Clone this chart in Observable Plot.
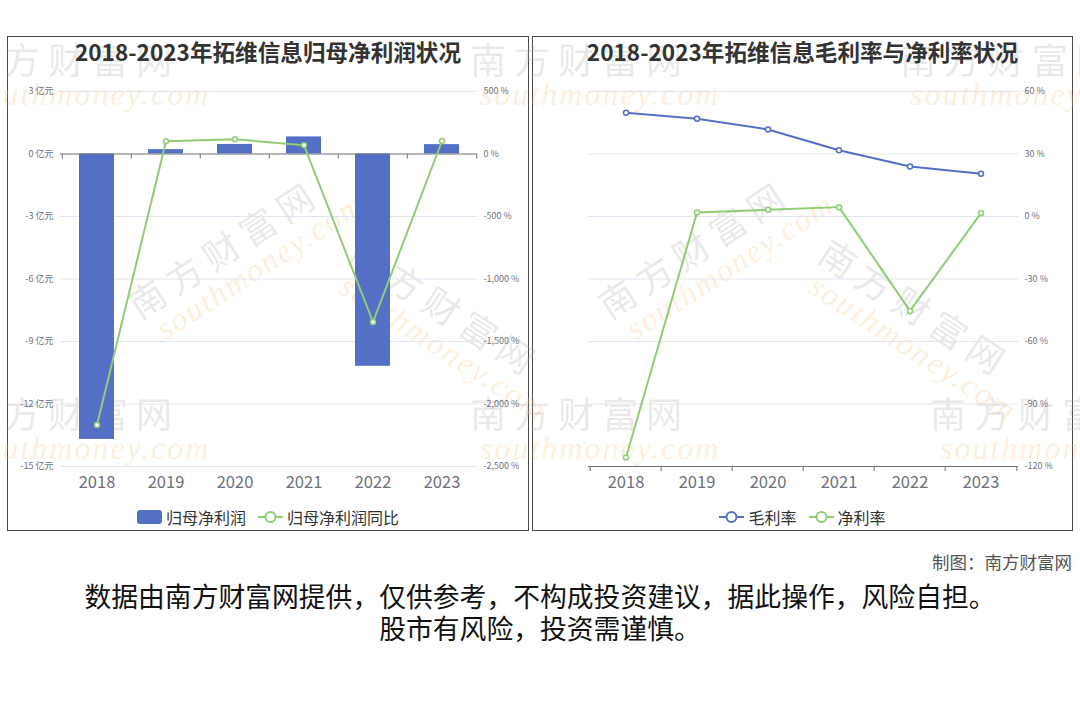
<!DOCTYPE html>
<html>
<head>
<meta charset="utf-8">
<script src="https://cdn.jsdelivr.net/npm/d3@7"></script>
<script src="https://cdn.jsdelivr.net/npm/@observablehq/plot@0.6"></script>
<style>
  html, body { margin: 0; padding: 0; background: #fff; }
  body { font-family: "Noto Sans CJK SC", "Noto Sans", sans-serif; }
  #root { position: relative; width: 1080px; height: 720px; overflow: hidden; background: #fff; }
  .panel { position: absolute; top: 36px; height: 495px; border: 1px solid #4a4a4a; box-sizing: border-box; }
  .title { position: absolute; top: 0; left: 0; right: 0; text-align: center; font-weight: bold; font-size: 22.6px; line-height: 30px; color: #333; white-space: nowrap; z-index: 3; }
  .chart { position: absolute; left: 0; top: 38px; z-index: 2; }
  .legend { position: absolute; top: 470px; left: 0; right: 0; display: flex; justify-content: center; align-items: center; font-size: 16px; line-height: 20px; color: #333; z-index: 3; }
  .legend .item { display: flex; align-items: center; margin: 0 6px; }
  .legend svg { margin-right: 4px; }
  .wm { position: absolute; z-index: 1; pointer-events: none; white-space: nowrap; }
  .wm .cn { font-family: "Noto Sans CJK SC", sans-serif; font-size: 36px; letter-spacing: 8px; color: rgba(170,170,170,0.26); line-height: 40px; }
  .wm .en { font-family: "Liberation Serif", serif; font-style: italic; font-size: 32px; letter-spacing: 2px; color: rgba(252,196,130,0.28); line-height: 32px; margin-left: 10px; }
  #credit { position: absolute; right: 8px; top: 550px; font-size: 17.5px; line-height: 24px; color: #555; }
  #note { position: absolute; left: 0; right: 0; top: 580px; text-align: center; font-size: 26.8px; line-height: 32px; color: #111; }
</style>
</head>
<body>
<div id="root">
  <div class="panel" id="pl" style="left:7px;width:522px;">
    <div class="title">2018-2023年拓维信息归母净利润状况</div>
    <div class="chart" id="c1"></div>
    <div class="legend" id="l1"></div>
  </div>
  <div class="panel" id="pr" style="left:532px;width:541px;">
    <div class="title">2018-2023年拓维信息毛利率与净利率状况</div>
    <div class="chart" id="c2"></div>
    <div class="legend" id="l2"></div>
  </div>
  <div id="credit">制图：南方财富网</div>
  <div id="note">数据由南方财富网提供，仅供参考，不构成投资建议，据此操作，风险自担。<br>股市有风险，投资需谨慎。</div>
</div>
<script>
// ---- data ----
const years = ["2018", "2019", "2020", "2021", "2022", "2023"];
const netProfit = [-13.7, 0.21, 0.46, 0.82, -10.19, 0.45];        // 归母净利润 (亿元)
const netProfitYoY = [-2168, 102, 118, 70, -1344, 104];            // 归母净利润同比 (%)
const grossMargin = [49.8, 46.9, 41.8, 31.8, 24.0, 20.5];          // 毛利率 (%)
const netMargin = [-115.7, 1.9, 3.2, 4.5, -45.3, 1.6];             // 净利率 (%)
const profitTicks = [3, 0, -3, -6, -9, -12, -15];
const yoyTicks = [500, 0, -500, -1000, -1500, -2000, -2500];
const rateTicks = [60, 30, 0, -30, -60, -90, -120];

const BLUE = "#5470C6", GREEN = "#91CC75", AXIS = "#6E7079", GRID = "#E0E6F1";
const fontFamily = '"Noto Sans CJK SC", "Noto Sans", sans-serif';
const fmtThousands = v => {
  const s = Math.abs(v).toString().replace(/\B(?=(\d{3})+(?!\d))/g, ",");
  return (v < 0 ? "-" : "") + s;
};

// ---- left chart ----
const rows1 = years.map((y, i) => ({ year: y, profit: netProfit[i], yoy: netProfitYoY[i] }));
const k = 3 / 500; // map % axis onto 亿元 axis
{
  const width = 520, ml = 52, mr = 51;
  const step = (width - ml - mr) / years.length;
  const chart = Plot.plot({
    width, height: 420,
    marginLeft: ml, marginRight: mr, marginTop: 16, marginBottom: 29,
    style: { fontFamily, overflow: "visible", background: "transparent" },
    x: { type: "band", domain: years, padding: 0, label: null },
    y: { domain: [-15, 3], label: null },
    marks: [
      Plot.ruleY(profitTicks.filter(t => t !== 0), { stroke: GRID, strokeWidth: 1 }),
      Plot.barY(rows1, { x: "year", y: "profit", fill: BLUE, insetLeft: 17, insetRight: 17 }),
      Plot.ruleY([0], { stroke: AXIS, strokeWidth: 1 }),
      Plot.ruleX(years, { x: d => d, y1: 0, y2: -0.25, dx: -step / 2, stroke: AXIS }),
      Plot.ruleX([years[years.length - 1]], { x: d => d, y1: 0, y2: -0.25, dx: step / 2, stroke: AXIS }),
      Plot.lineY(rows1, { x: "year", y: d => d.yoy * k, stroke: GREEN, strokeWidth: 2 }),
      Plot.dot(rows1, { x: "year", y: d => d.yoy * k, r: 2.5, fill: "#fff", stroke: GREEN, strokeWidth: 1.5 }),
      Plot.axisY(profitTicks, { anchor: "left", tickSize: 0, tickPadding: 7, fontSize: 9, fill: AXIS, tickFormat: d => `${d} 亿元`, label: null }),
      Plot.axisY(yoyTicks.map(t => t * k), { anchor: "right", tickSize: 0, tickPadding: 6, fontSize: 9, fill: AXIS, tickFormat: d => fmtThousands(Math.round(d / k)) + " %", label: null }),
      Plot.axisX({ tickSize: 0, tickPadding: 10, fontSize: 16.5, fill: AXIS, label: null })
    ]
  });
  document.getElementById("c1").appendChild(chart);
}

// ---- right chart ----
const rows2 = years.map((y, i) => ({ year: y, gross: grossMargin[i], net: netMargin[i] }));
{
  const width = 539, ml = 55, mr = 54;
  const step = (width - ml - mr) / years.length;
  const chart = Plot.plot({
    width, height: 420,
    marginLeft: ml, marginRight: mr, marginTop: 16, marginBottom: 29,
    style: { fontFamily, overflow: "visible", background: "transparent" },
    x: { type: "band", domain: years, padding: 0, label: null },
    y: { domain: [-120, 60], label: null },
    marks: [
      Plot.ruleY(rateTicks.filter(t => t !== -120), { stroke: GRID, strokeWidth: 1 }),
      Plot.ruleY([-120], { stroke: AXIS, strokeWidth: 1 }),
      Plot.ruleX(years, { x: d => d, y1: -120, y2: -122.4, dx: -step / 2, stroke: AXIS }),
      Plot.ruleX([years[years.length - 1]], { x: d => d, y1: -120, y2: -122.4, dx: step / 2, stroke: AXIS }),
      Plot.lineY(rows2, { x: "year", y: "gross", stroke: BLUE, strokeWidth: 2 }),
      Plot.dot(rows2, { x: "year", y: "gross", r: 2.5, fill: "#fff", stroke: BLUE, strokeWidth: 1.5 }),
      Plot.lineY(rows2, { x: "year", y: "net", stroke: GREEN, strokeWidth: 2 }),
      Plot.dot(rows2, { x: "year", y: "net", r: 2.5, fill: "#fff", stroke: GREEN, strokeWidth: 1.5 }),
      Plot.axisY(rateTicks, { anchor: "right", tickSize: 0, tickPadding: 6, fontSize: 9, fill: AXIS, tickFormat: d => `${d} %`, label: null }),
      Plot.axisX({ tickSize: 0, tickPadding: 10, fontSize: 16.5, fill: AXIS, label: null })
    ]
  });
  document.getElementById("c2").appendChild(chart);
}

// ---- legends ----
function legendItem(kind, color, text) {
  const item = document.createElement("div");
  item.className = "item";
  let icon;
  if (kind === "rect") {
    icon = `<svg width="25" height="14"><rect x="0" y="0" width="25" height="14" rx="3" fill="${color}"/></svg>`;
  } else {
    icon = `<svg width="25" height="14"><line x1="0" x2="25" y1="7" y2="7" stroke="${color}" stroke-width="2"/><circle cx="12.5" cy="7" r="5" fill="#fff" stroke="${color}" stroke-width="2"/></svg>`;
  }
  item.innerHTML = icon + `<span>${text}</span>`;
  return item;
}
const l1 = document.getElementById("l1");
l1.appendChild(legendItem("rect", BLUE, "归母净利润"));
l1.appendChild(legendItem("line", GREEN, "归母净利润同比"));
const l2 = document.getElementById("l2");
l2.appendChild(legendItem("line", BLUE, "毛利率"));
l2.appendChild(legendItem("line", GREEN, "净利率"));

// ---- watermarks ----
const root = document.getElementById("root");
function watermark(x, y, rot) {
  const d = document.createElement("div");
  d.className = "wm";
  d.style.left = x + "px";
  d.style.top = y + "px";
  d.style.transform = `rotate(${rot}deg)`;
  d.style.transformOrigin = "0 0";
  d.innerHTML = `<div class="cn">南方财富网</div><div class="en">southmoney.com</div>`;
  root.appendChild(d);
}
[[-40, 38, 0], [470, 38, 0], [900, 38, 0],
 [-40, 392, 0], [470, 392, 0], [930, 392, 0],
 [120, 290, -33], [365, 230, 33], [590, 290, -33], [835, 230, 33]
].forEach(([x, y, r]) => watermark(x, y, r));
</script>
</body>
</html>
